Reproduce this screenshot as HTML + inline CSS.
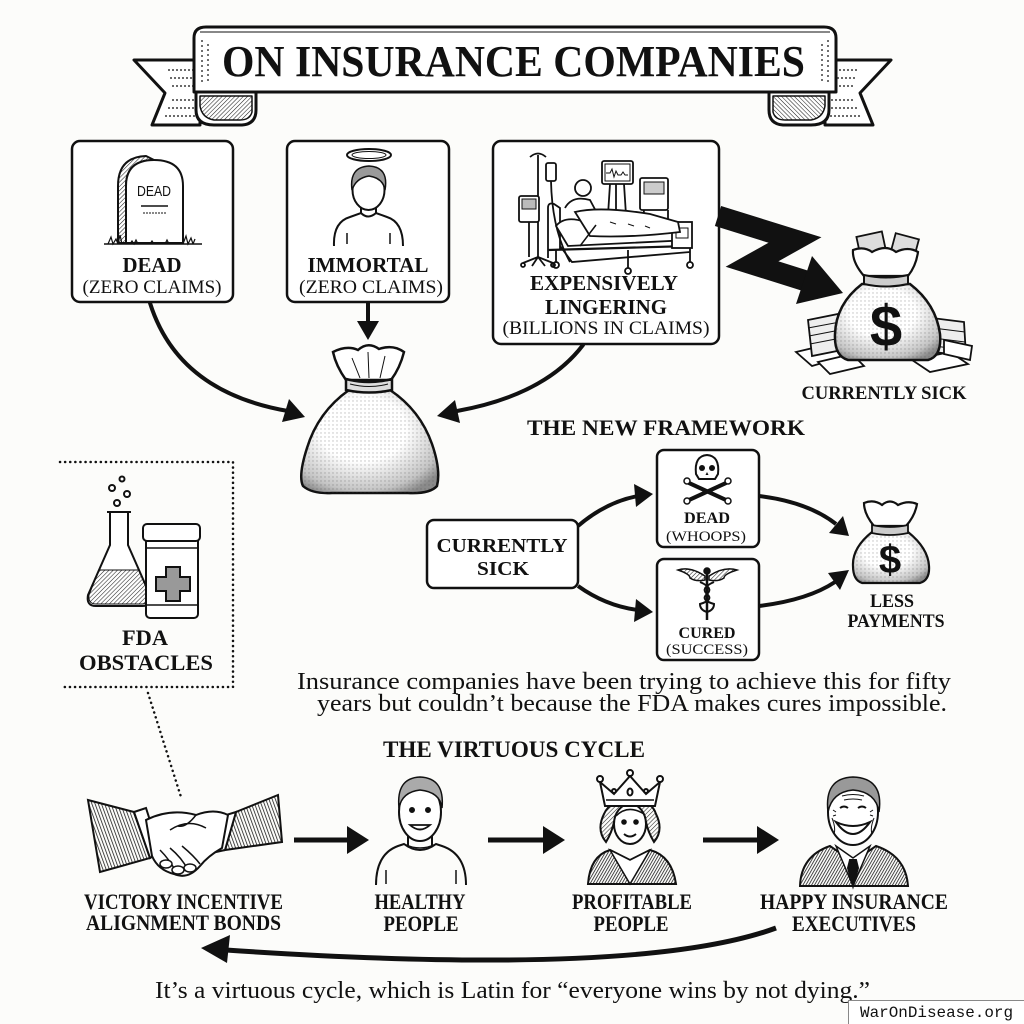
<!DOCTYPE html>
<html><head><meta charset="utf-8">
<style>
html,body{margin:0;padding:0;background:#fcfcfa;}
svg{display:block}
.b{font-family:"Liberation Serif",serif;font-weight:bold;fill:#111}
.r{font-family:"Liberation Serif",serif;fill:#111}
</style></head><body>
<svg width="1024" height="1024" viewBox="0 0 1024 1024" xmlns="http://www.w3.org/2000/svg">
<defs>
<pattern id="hatch" width="3" height="3" patternUnits="userSpaceOnUse" patternTransform="rotate(45)"><line x1="0" y1="0" x2="0" y2="3" stroke="#222" stroke-width="1.1"/></pattern>
<pattern id="vhatch" width="3" height="3" patternUnits="userSpaceOnUse" patternTransform="rotate(-20)"><line x1="0" y1="0" x2="0" y2="3" stroke="#111" stroke-width="1.5"/></pattern>
<pattern id="dhatch" width="2.5" height="2.5" patternUnits="userSpaceOnUse" patternTransform="rotate(30)"><line x1="0" y1="0" x2="0" y2="2.5" stroke="#111" stroke-width="1.5"/></pattern>
<pattern id="dots" width="4" height="4" patternUnits="userSpaceOnUse"><circle cx="1" cy="1" r="0.7" fill="#444"/></pattern>
<radialGradient id="bag" cx="0.45" cy="0.38" r="0.7"><stop offset="0.45" stop-color="#ffffff"/><stop offset="0.85" stop-color="#c4c4c4"/><stop offset="1" stop-color="#8a8a8a"/></radialGradient>
</defs>
<rect width="1024" height="1024" fill="#fcfcfa"/>

<!-- ===== TITLE BANNER ===== -->
<g stroke="#111" stroke-width="3" stroke-linejoin="round">
  <g id="ltail">
    <path d="M134,60 L200,60 L200,125 L152,125 L165,93 Z" fill="#fff"/>
    <g stroke-width="1.2" stroke-dasharray="2 2">
      <line x1="168" y1="70" x2="196" y2="70"/><line x1="170" y1="78" x2="196" y2="78"/>
      <line x1="172" y1="86" x2="196" y2="86"/><line x1="172" y1="100" x2="196" y2="100"/>
      <line x1="168" y1="108" x2="196" y2="108"/><line x1="165" y1="116" x2="196" y2="116"/>
    </g>
    <path d="M196,80 L196,110 Q196,125 214,125 L242,125 Q256,124 256,110 L256,92 Z" fill="#fff"/>
    <path d="M200,96 L252,96 L252,112 Q250,120 240,120 L214,120 Q202,118 200,106 Z" fill="url(#hatch)" stroke-width="1.5"/>
  </g>
  <use href="#ltail" transform="translate(1025,0) scale(-1,1)"/>
  <path d="M194,38 Q194,27 206,27 L824,27 Q836,27 836,38 L836,92 L194,92 Z" fill="#fff"/>
  <path d="M200,32 L830,32" stroke-width="1" fill="none"/>
  <g stroke-width="1.2" stroke-dasharray="2 3">
    <line x1="202" y1="40" x2="202" y2="85"/><line x1="208" y1="44" x2="208" y2="82"/>
    <line x1="828" y1="40" x2="828" y2="85"/><line x1="822" y1="44" x2="822" y2="82"/>
  </g>
</g>
<text class="b" x="222" y="76" font-size="44" textLength="583" lengthAdjust="spacingAndGlyphs">ON INSURANCE COMPANIES</text>

<!-- ===== TOP BOXES ===== -->
<g fill="#fff" stroke="#111" stroke-width="2.5">
  <rect x="72" y="141" width="161" height="161" rx="8"/>
  <rect x="287" y="141" width="162" height="161" rx="8"/>
  <rect x="493" y="141" width="226" height="203" rx="8"/>
</g>

<!-- tombstone -->
<g stroke="#111" stroke-width="2">
  <path d="M118,243 L118,186 Q118,157 146,156 L154,160 Q126,160 126,186 L126,243 Z" fill="url(#hatch)"/>
  <path d="M126,243 L126,186 Q126,160 154,160 Q183,160 183,186 L183,243 Z" fill="#fff"/>
  <line x1="141" y1="206" x2="168" y2="206" stroke-width="1.5"/>
  <line x1="143" y1="213" x2="166" y2="213" stroke-width="1" stroke-dasharray="2 1"/>
  <path d="M104,244 L202,244" stroke-width="1.5"/>
  <path d="M108,244 l3,-7 l2,7 l3,-5 l2,5 M118,244 l2,-9 l2,9 M183,244 l3,-8 l2,8 l3,-6 l2,6 M193,244 l2,-5 M130,244 l2,-3 l2,3 l2,-4 l2,4 M150,244 l2,-3 l2,3 M165,244 l2,-4 l2,4" fill="none" stroke-width="1.2"/>
</g>
<text x="154" y="196" font-family="Liberation Sans, sans-serif" font-size="15" text-anchor="middle" textLength="34" lengthAdjust="spacingAndGlyphs" fill="#111">DEAD</text>

<!-- immortal person -->
<g stroke="#111" fill="none">
  <ellipse cx="369" cy="155" rx="22" ry="6" stroke-width="2"/>
  <ellipse cx="369" cy="155" rx="17" ry="3.5" stroke-width="1"/>
  <path d="M334,246 Q333,222 350,217 L361,213 Q368,220 376,213 L387,217 Q403,222 403,246" stroke-width="2"/>
  <line x1="361" y1="203" x2="361" y2="214" stroke-width="2"/>
  <line x1="376" y1="203" x2="376" y2="214" stroke-width="2"/>
  <ellipse cx="368.5" cy="190" rx="16" ry="20" fill="#fff" stroke-width="2"/>
  <path d="M352,190 Q349,167 369,166 Q389,167 385,190 Q383,178 369,176 Q356,178 352,190 Z" fill="#9a9a9a" stroke-width="1.5"/>
  <line x1="347" y1="233" x2="347" y2="244" stroke-width="1.5"/>
  <line x1="390" y1="233" x2="390" y2="244" stroke-width="1.5"/>
</g>

<!-- hospital bed scene -->
<g stroke="#111" stroke-width="1.8" fill="none">
  <line x1="538" y1="155" x2="538" y2="257"/>
  <path d="M530,157 Q538,150 546,157"/>
  <rect x="546" y="163" width="10" height="18" rx="2" fill="#fff"/>
  <path d="M551,181 Q552,230 570,262"/>
  <path d="M538,257 l-15,6 M538,257 l15,6 M538,257 l-6,9 M538,257 l7,9"/>
  <circle cx="523" cy="265" r="2"/><circle cx="553" cy="265" r="2"/>
  <rect x="519" y="196" width="20" height="26" rx="2" fill="#fff"/>
  <rect x="522" y="199" width="14" height="10" fill="#bbb" stroke-width="1"/>
  <line x1="529" y1="222" x2="529" y2="257"/>
  <rect x="602" y="161" width="31" height="23" rx="2" fill="#fff"/>
  <rect x="605" y="164" width="25" height="17" fill="#fff" stroke-width="1"/>
  <path d="M606,173 l4,0 l2,-4 l2,8 l2,-6 l2,4 l3,0 l2,-3 l2,3 l3,0" stroke-width="1"/>
  <path d="M610,184 L608,215 M616,184 L616,215 M624,184 L626,215"/>
  <rect x="640" y="178" width="28" height="32" rx="2" fill="#fff"/>
  <rect x="644" y="182" width="20" height="12" fill="#ccc" stroke-width="1"/>
  <path d="M644,210 L642,232 L668,232 L668,210"/>
  <path d="M548,258 L548,208 Q548,202 554,204 L560,208 L560,250"/>
  <path d="M556,226 Q565,215 585,222 L690,228 L690,240 L568,246 Z" fill="#fff"/>
  <path d="M560,246 L572,262 L690,252"/>
  <path d="M548,250 L690,246" stroke-width="2.2"/>
  <line x1="556" y1="250" x2="556" y2="262"/><circle cx="556" cy="265" r="3"/>
  <line x1="628" y1="250" x2="628" y2="268"/><circle cx="628" cy="271" r="3"/>
  <line x1="690" y1="222" x2="690" y2="262"/><circle cx="690" cy="265" r="3"/>
  <rect x="672" y="222" width="20" height="26" fill="#fff"/>
  <rect x="676" y="228" width="12" height="10" stroke-width="1"/>
  <path d="M565,208 Q572,195 590,200 L598,215" fill="#fff"/>
  <circle cx="583" cy="188" r="8" fill="#fff"/>
  <path d="M575,212 Q600,206 650,214 L678,222 L680,232 Q630,238 590,236 Z" fill="#fff"/>
  <path d="M610,222 l6,2 M628,224 l6,2 M645,226 l5,2" stroke-width="1"/>
  <path d="M596,225 L580,246" stroke-width="1.5"/>
</g>

<text class="b" x="152" y="272" font-size="21" text-anchor="middle" textLength="59" lengthAdjust="spacingAndGlyphs">DEAD</text>
<text class="r" x="152" y="293" font-size="19" text-anchor="middle" textLength="139" lengthAdjust="spacingAndGlyphs">(ZERO CLAIMS)</text>
<text class="b" x="368" y="272" font-size="21" text-anchor="middle" textLength="121" lengthAdjust="spacingAndGlyphs">IMMORTAL</text>
<text class="r" x="371" y="293" font-size="19" text-anchor="middle" textLength="144" lengthAdjust="spacingAndGlyphs">(ZERO CLAIMS)</text>
<text class="b" x="604" y="290" font-size="21" text-anchor="middle" textLength="148" lengthAdjust="spacingAndGlyphs">EXPENSIVELY</text>
<text class="b" x="606" y="314" font-size="21" text-anchor="middle" textLength="122" lengthAdjust="spacingAndGlyphs">LINGERING</text>
<text class="r" x="606" y="334" font-size="19" text-anchor="middle" textLength="207" lengthAdjust="spacingAndGlyphs">(BILLIONS IN CLAIMS)</text>

<!-- ===== TOP ARROWS ===== -->
<g stroke="#111" stroke-width="4" fill="none" stroke-linecap="round">
  <path d="M150,303 Q178,392 288,411"/>
  <line x1="368" y1="303" x2="368" y2="324"/>
  <path d="M583,345 Q545,395 457,411"/>
</g>
<g fill="#111">
  <polygon points="305,417 282,422 289,399"/>
  <polygon points="368,340 357,321 379,321"/>
  <polygon points="437,416 455,400 460,423"/>
</g>

<!-- zigzag arrow -->
<polyline points="718,216 795,240 752,264 806,281" fill="none" stroke="#111" stroke-width="21" stroke-linejoin="miter" stroke-miterlimit="10"/>
<polygon points="843,293 796,304 812,256" fill="#111"/>

<!-- center bag -->
<g stroke="#111" stroke-width="2.5">
  <path d="M349,390 Q318,412 307,448 Q298,476 303,486 Q312,494 332,493 L408,493 Q430,494 437,486 Q441,470 432,444 Q420,410 390,390 Z" fill="url(#bag)"/>
  <path d="M349,390 Q318,412 307,448 Q298,476 303,486 Q312,494 332,493 L408,493 Q430,494 437,486 Q441,470 432,444 Q420,410 390,390 Z" fill="url(#dots)" opacity="0.35" stroke="none"/>
  <path d="M346,380 Q336,366 333,352 Q347,345 358,350 Q368,341 379,349 Q393,344 404,352 Q400,368 391,380 Z" fill="#fff"/>
  <path d="M352,358 L360,378 M368,352 L369,378 M385,356 L380,378" stroke-width="1" fill="none"/>
  <path d="M346,379 Q369,385 392,379 L392,390 Q369,395 346,390 Z" fill="#ddd"/>
  <path d="M350,384 Q369,389 388,384" stroke-width="1" fill="none"/>
</g>

<!-- currently sick bag -->
<g stroke="#111" stroke-width="1.8">
  <g fill="#fff">
    <path d="M796,352 L830,344 L846,356 L812,366 Z"/>
    <path d="M808,320 L838,314 L842,350 L812,356 Z" fill="#eee"/>
    <path d="M808,328 L840,322 M809,336 L840,330 M810,344 L841,338" fill="none" stroke-width="1"/>
    <path d="M818,362 L852,354 L864,366 L830,374 Z"/>
    <path d="M932,318 L964,322 L966,356 L934,352 Z" fill="#eee"/>
    <path d="M933,328 L965,332 M933,338 L965,342 M934,346 L966,350" fill="none" stroke-width="1"/>
    <path d="M912,360 L950,352 L968,364 L930,372 Z"/>
    <path d="M944,340 L972,346 L970,360 L944,354 Z"/>
  </g>
  <path d="M862,284 Q836,304 835,334 Q834,356 848,360 L928,360 Q942,356 940,334 Q936,304 910,284 Z" fill="url(#bag)" stroke-width="2.5"/>
  <path d="M862,284 Q836,304 835,334 Q834,356 848,360 L928,360 Q942,356 940,334 Q936,304 910,284 Z" fill="url(#dots)" opacity="0.35" stroke="none"/>
  <rect x="858" y="234" width="26" height="18" transform="rotate(-12 871 243)" fill="#ddd"/>
  <rect x="893" y="236" width="24" height="18" transform="rotate(15 905 245)" fill="#ddd"/>
  <path d="M864,276 Q852,262 853,250 Q864,246 872,252 Q886,244 896,252 Q908,246 918,252 Q916,266 908,276 Z" fill="#fff" stroke-width="2.2"/>
  <path d="M864,275 Q886,280 908,275 L908,284 Q886,289 864,284 Z" fill="#ccc" stroke-width="2"/>
</g>
<text x="886" y="346" font-family="Liberation Sans, sans-serif" font-weight="bold" font-size="58" text-anchor="middle" fill="#111">$</text>
<text class="b" x="884" y="399" font-size="19" text-anchor="middle" textLength="165" lengthAdjust="spacingAndGlyphs">CURRENTLY SICK</text>

<!-- ===== NEW FRAMEWORK ===== -->
<text class="b" x="527" y="435" font-size="22" textLength="278" lengthAdjust="spacingAndGlyphs">THE NEW FRAMEWORK</text>
<g fill="#fff" stroke="#111" stroke-width="2.5">
  <rect x="427" y="520" width="151" height="68" rx="7"/>
  <rect x="657" y="450" width="102" height="97" rx="7"/>
  <rect x="657" y="559" width="102" height="101" rx="7"/>
</g>
<text class="b" x="502" y="552" font-size="20" text-anchor="middle" textLength="131" lengthAdjust="spacingAndGlyphs">CURRENTLY</text>
<text class="b" x="503" y="575" font-size="20" text-anchor="middle" textLength="52" lengthAdjust="spacingAndGlyphs">SICK</text>

<!-- skull -->
<g stroke="#111">
  <line x1="689" y1="483" x2="726" y2="500" stroke-width="4" stroke-linecap="round"/>
  <line x1="726" y1="483" x2="689" y2="500" stroke-width="4" stroke-linecap="round"/>
  <g fill="#fff" stroke-width="1.5"><circle cx="687" cy="481" r="3"/><circle cx="728" cy="481" r="3"/><circle cx="687" cy="501" r="3"/><circle cx="728" cy="501" r="3"/></g>
  <path d="M696,474 Q694,456 707,455 Q720,456 718,474 L715,479 L699,479 Z" fill="#fff" stroke-width="2"/>
  <circle cx="702" cy="468" r="3" fill="#111" stroke="none"/>
  <circle cx="712" cy="468" r="3" fill="#111" stroke="none"/>
  <path d="M707,472 l-1.5,3 l3,0 Z" fill="#111" stroke="none"/>
</g>
<text class="b" x="707" y="523" font-size="16" text-anchor="middle" textLength="46" lengthAdjust="spacingAndGlyphs">DEAD</text>
<text class="r" x="706" y="541" font-size="15" text-anchor="middle" textLength="80" lengthAdjust="spacingAndGlyphs">(WHOOPS)</text>

<!-- caduceus -->
<g stroke="#111" stroke-width="1.5">
  <path d="M705,576 Q690,566 678,570 Q690,574 690,578 Q696,582 705,580 Z" fill="url(#hatch)"/>
  <path d="M709,576 Q724,566 737,570 Q724,574 724,578 Q718,582 709,580 Z" fill="url(#hatch)"/>
  <line x1="707" y1="572" x2="707" y2="620" stroke-width="2.5"/>
  <circle cx="707" cy="571" r="3" fill="#111"/>
  <path d="M700,582 Q714,588 707,594 Q700,600 714,604 Q714,610 707,612" fill="none" stroke-width="2"/>
  <path d="M714,582 Q700,588 707,594 Q714,600 700,604 Q700,610 707,612" fill="none" stroke-width="2"/>
</g>
<text class="b" x="707" y="638" font-size="16" text-anchor="middle" textLength="57" lengthAdjust="spacingAndGlyphs">CURED</text>
<text class="r" x="707" y="654" font-size="15" text-anchor="middle" textLength="82" lengthAdjust="spacingAndGlyphs">(SUCCESS)</text>

<!-- framework arrows -->
<g stroke="#111" stroke-width="4" fill="none">
  <path d="M578,526 Q606,502 638,496"/>
  <path d="M578,586 Q606,606 638,610"/>
  <path d="M759,496 Q808,502 836,524"/>
  <path d="M759,606 Q808,600 835,582"/>
</g>
<g fill="#111">
  <polygon points="653,494 634,484 636,507"/>
  <polygon points="653,612 636,599 634,622"/>
  <polygon points="849,536 829,533 843,516"/>
  <polygon points="849,570 840,590 828,573"/>
</g>

<!-- less payments bag -->
<g stroke="#111" stroke-width="2.2">
  <path d="M872,532 Q852,548 853,566 Q853,580 862,583 L920,583 Q930,580 929,566 Q928,548 908,532 Z" fill="url(#bag)"/>
  <path d="M872,532 Q852,548 853,566 Q853,580 862,583 L920,583 Q930,580 929,566 Q928,548 908,532 Z" fill="url(#dots)" opacity="0.35" stroke="none"/>
  <path d="M874,526 Q864,514 864,503 Q874,499 882,505 Q890,498 898,505 Q908,500 917,504 Q915,516 906,526 Z" fill="#fff"/>
  <path d="M872,525 Q890,529 908,525 L908,533 Q890,537 872,533 Z" fill="#ccc" stroke-width="1.8"/>
</g>
<text x="890" y="573" font-family="Liberation Sans, sans-serif" font-weight="bold" font-size="40" text-anchor="middle" fill="#111">$</text>
<text class="b" x="892" y="607" font-size="19" text-anchor="middle" textLength="44" lengthAdjust="spacingAndGlyphs">LESS</text>
<text class="b" x="896" y="627" font-size="19" text-anchor="middle" textLength="97" lengthAdjust="spacingAndGlyphs">PAYMENTS</text>

<!-- ===== FDA ===== -->
<path d="M60,462 L233,462 L233,687 L60,687" fill="none" stroke="#111" stroke-width="2.5" stroke-dasharray="0.1 5" stroke-linecap="round"/>
<path d="M148,693 L181,797" fill="none" stroke="#111" stroke-width="2.5" stroke-dasharray="0.1 5" stroke-linecap="round"/>
<g stroke="#111" stroke-width="2" fill="#fff">
  <circle cx="112" cy="488" r="3"/><circle cx="122" cy="479" r="2.5"/><circle cx="127" cy="494" r="3"/><circle cx="117" cy="503" r="3"/>
  <path d="M107,512 L131,512 M110,512 L110,545 L88,595 Q86,606 96,606 L142,606 Q152,606 150,595 L128,545 L128,512"/>
  <path d="M99,570 L139,570 L149,595 Q150,604 142,604 L96,604 Q88,604 89,595 Z" fill="url(#hatch)" stroke-width="1"/>
  <rect x="146" y="537" width="52" height="81" rx="4"/>
  <rect x="143" y="524" width="57" height="17" rx="4"/>
  <path d="M146,548 L198,548 M146,605 L198,605" stroke-width="1.5"/>
  <path d="M166,567 L180,567 L180,577 L190,577 L190,591 L180,591 L180,601 L166,601 L166,591 L156,591 L156,577 L166,577 Z" fill="#999"/>
</g>
<text class="b" x="145" y="645" font-size="22" text-anchor="middle" textLength="46" lengthAdjust="spacingAndGlyphs">FDA</text>
<text class="b" x="146" y="670" font-size="22" text-anchor="middle" textLength="134" lengthAdjust="spacingAndGlyphs">OBSTACLES</text>

<!-- body text -->
<text class="r" x="297" y="689" font-size="24" textLength="654" lengthAdjust="spacingAndGlyphs">Insurance companies have been trying to achieve this for fifty</text>
<text class="r" x="317" y="711" font-size="24" textLength="630" lengthAdjust="spacingAndGlyphs">years but couldn’t because the FDA makes cures impossible.</text>

<!-- ===== VIRTUOUS CYCLE ===== -->
<text class="b" x="383" y="757" font-size="23" textLength="262" lengthAdjust="spacingAndGlyphs">THE VIRTUOUS CYCLE</text>

<!-- handshake -->
<g stroke="#111" stroke-width="2">
  <path d="M88,800 L134,812 L150,858 L100,872 Z" fill="url(#vhatch)"/>
  <path d="M134,812 L146,808 L160,852 L150,858 Z" fill="#fff"/>
  <path d="M278,795 L236,812 L225,850 L282,842 Z" fill="url(#vhatch)"/>
  <path d="M236,812 L226,815 L216,852 L225,850 Z" fill="#fff"/>
  <path d="M146,820 Q170,808 196,815 Q214,808 228,815 L222,848 Q208,856 200,866 Q188,880 174,874 Q158,870 152,856 Z" fill="#fff"/>
  <path d="M170,830 Q188,818 206,828 M160,850 Q170,860 176,872 M170,848 Q182,858 188,870 M182,846 Q194,856 200,864" fill="none" stroke-width="1.5"/>
  <path d="M196,815 Q186,828 178,826" fill="none" stroke-width="1.5"/>
  <ellipse cx="166" cy="864" rx="6" ry="4" fill="#fff" stroke-width="1.5"/>
  <ellipse cx="178" cy="870" rx="6" ry="4" fill="#fff" stroke-width="1.5"/>
  <ellipse cx="190" cy="868" rx="6" ry="4" fill="#fff" stroke-width="1.5"/>
</g>

<!-- healthy person -->
<g stroke="#111" stroke-width="2" fill="none">
  <path d="M376,885 Q376,854 398,846 L404,844 Q420,856 436,844 L442,846 Q466,854 466,885"/>
  <path d="M404,844 Q420,852 436,844" stroke-width="1.5"/>
  <line x1="408" y1="834" x2="408" y2="846"/><line x1="432" y1="834" x2="432" y2="846"/>
  <ellipse cx="420" cy="812" rx="21" ry="29" fill="#fff"/>
  <path d="M399,808 Q396,778 420,777 Q445,778 442,808 Q440,792 420,790 Q402,792 399,808 Z" fill="#aaa" stroke-width="1.5"/>
  <circle cx="412" cy="810" r="2" fill="#111"/><circle cx="428" cy="810" r="2" fill="#111"/>
  <path d="M410,825 Q420,834 430,825 Z" fill="#fff" stroke-width="1.8"/>
  <line x1="386" y1="870" x2="386" y2="884" stroke-width="1.5"/><line x1="456" y1="870" x2="456" y2="884" stroke-width="1.5"/>
</g>

<!-- queen -->
<g stroke="#111" stroke-width="2">
  <path d="M588,884 Q590,856 610,850 L630,860 L650,850 Q672,856 676,884 Z" fill="url(#dhatch)"/>
  <path d="M610,850 L630,884 L650,850 L630,860 Z" fill="#fff" stroke-width="1.5"/>
  <path d="M606,842 Q596,830 604,814 Q610,800 630,800 Q652,800 656,814 Q664,830 654,842 Q648,832 646,822 L614,822 Q612,832 606,842 Z" fill="url(#hatch)"/>
  <ellipse cx="630" cy="824" rx="16" ry="20" fill="#fff"/>
  <path d="M616,816 Q628,804 644,814" fill="none" stroke-width="1.5"/>
  <circle cx="624" cy="822" r="1.8" fill="#111"/><circle cx="636" cy="822" r="1.8" fill="#111"/>
  <path d="M624,834 Q630,839 636,834" fill="none"/>
  <path d="M605,806 L600,782 L614,794 L630,776 L646,794 L660,782 L655,806 Z" fill="#fff"/>
  <path d="M606,800 L654,800" stroke-width="1.5"/>
  <circle cx="600" cy="779" r="3" fill="#fff"/><circle cx="630" cy="773" r="3" fill="#fff"/><circle cx="660" cy="779" r="3" fill="#fff"/>
  <circle cx="614" cy="791" r="2" fill="#fff"/><circle cx="646" cy="791" r="2" fill="#fff"/>
  <ellipse cx="630" cy="792" rx="2.5" ry="3.5" fill="#fff"/>
</g>

<!-- executive -->
<g stroke="#111" stroke-width="2">
  <path d="M800,886 Q801,856 830,846 L853,862 L876,846 Q906,856 908,886 Z" fill="url(#dhatch)"/>
  <path d="M836,846 L853,886 L870,846 L853,858 Z" fill="#fff" stroke-width="1.5"/>
  <path d="M850,860 L856,860 L858,868 L853,886 L848,868 Z" fill="#111"/>
  <ellipse cx="853" cy="812" rx="25" ry="33" fill="#fff"/>
  <path d="M828,812 Q824,778 853,777 Q884,778 879,812 Q876,792 853,790 Q832,792 828,812 Z" fill="#999" stroke-width="1.5"/>
  <path d="M842,796 Q853,793 864,796 M844,800 Q853,798 862,800" fill="none" stroke-width="1"/>
  <path d="M840,808 Q844,805 848,808 M858,808 Q862,805 866,808" fill="none"/>
  <path d="M836,822 Q853,846 870,822 Q853,830 836,822 Z" fill="#fff"/>
  <path d="M832,818 Q836,828 834,834 M874,818 Q870,828 872,834" fill="none" stroke-width="1"/>
  <path d="M836,812 l-3,-2 M836,815 l-3,1 M870,812 l3,-2 M870,815 l3,1" fill="none" stroke-width="1"/>
</g>

<!-- cycle arrows -->
<g stroke="#111" stroke-width="5" fill="none">
  <line x1="294" y1="840" x2="352" y2="840"/>
  <line x1="488" y1="840" x2="548" y2="840"/>
  <line x1="703" y1="840" x2="762" y2="840"/>
  <path d="M776,928 Q640,978 226,950"/>
</g>
<g fill="#111">
  <polygon points="369,840 347,826 347,854"/>
  <polygon points="565,840 543,826 543,854"/>
  <polygon points="779,840 757,826 757,854"/>
  <polygon points="201,948 230,935 227,963"/>
</g>

<text class="b" x="84" y="909" font-size="22" textLength="199" lengthAdjust="spacingAndGlyphs">VICTORY INCENTIVE</text>
<text class="b" x="86" y="930" font-size="22" textLength="195" lengthAdjust="spacingAndGlyphs">ALIGNMENT BONDS</text>
<text class="b" x="420" y="909" font-size="22" text-anchor="middle" textLength="91" lengthAdjust="spacingAndGlyphs">HEALTHY</text>
<text class="b" x="421" y="931" font-size="22" text-anchor="middle" textLength="75" lengthAdjust="spacingAndGlyphs">PEOPLE</text>
<text class="b" x="632" y="909" font-size="22" text-anchor="middle" textLength="120" lengthAdjust="spacingAndGlyphs">PROFITABLE</text>
<text class="b" x="631" y="931" font-size="22" text-anchor="middle" textLength="75" lengthAdjust="spacingAndGlyphs">PEOPLE</text>
<text class="b" x="854" y="909" font-size="22" text-anchor="middle" textLength="188" lengthAdjust="spacingAndGlyphs">HAPPY INSURANCE</text>
<text class="b" x="854" y="931" font-size="22" text-anchor="middle" textLength="124" lengthAdjust="spacingAndGlyphs">EXECUTIVES</text>

<text class="r" x="155" y="998" font-size="24" textLength="715" lengthAdjust="spacingAndGlyphs">It’s a virtuous cycle, which is Latin for “everyone wins by not dying.”</text>

<!-- watermark -->
<rect x="848.5" y="1000.5" width="176" height="24" fill="#fff" stroke="#888" stroke-width="1"/>
<text x="860" y="1017" font-family="Liberation Mono, monospace" font-size="16" fill="#111" textLength="153" lengthAdjust="spacingAndGlyphs">WarOnDisease.org</text>
</svg>
</body></html>
